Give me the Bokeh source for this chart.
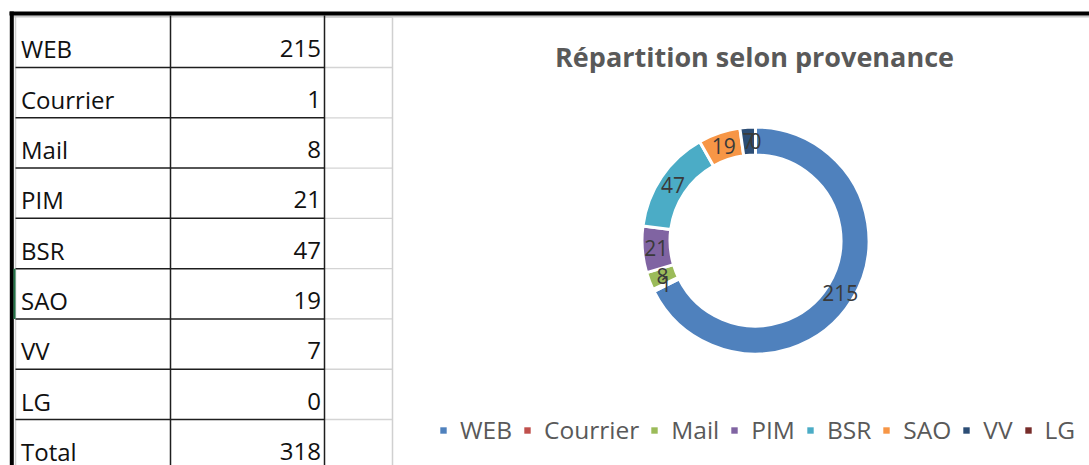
import math
from bokeh.plotting import figure
from bokeh.models import Range1d, ColumnDataSource, Legend, LegendItem
from bokeh.core.properties import value
from bokeh.embed import file_html
from bokeh.resources import INLINE

# ---- data ----
categories = ["WEB", "Courrier", "Mail", "PIM", "BSR", "SAO", "VV", "LG"]
values = [215, 1, 8, 21, 47, 19, 7, 0]
colors = ["#4F81BD", "#C0504D", "#9BBB59", "#8064A2", "#4BACC6", "#F79646", "#2C4D75", "#772C2A"]
total_label = "Total"
title_text = "Répartition selon provenance"

FONT = "Open Sans"

# ---- canvas: data units == picture pixels (y negated) ----
W, H = 1089, 465
p = figure(width=W, height=H, x_range=Range1d(0, W), y_range=Range1d(-H, 0),
           output_backend="svg", toolbar_location=None, min_border=0,
           x_axis_location=None, y_axis_location=None, outline_line_color=None,
           background_fill_color="white", border_fill_color="white")
p.grid.visible = False

# ---- spreadsheet table ----
row_h = 50.29
row_top = 16.7
col_left, col_mid, col_right, grid_right = 15, 170, 324, 392
bottom = H
n_rows = len(categories) + 1
row_lines = [row_top + i * row_h for i in range(n_rows + 1)]

# light gray cell gridlines
p.segment(x0=[col_right] * len(row_lines), x1=[grid_right] * len(row_lines),
          y0=[-y for y in row_lines], y1=[-y for y in row_lines], line_color="#d4d4d4", line_width=1.3)
p.segment(x0=[col_left, grid_right], x1=[col_left, grid_right], y0=[-15, -17], y1=[-bottom, -bottom],
          line_color="#d0d0d0", line_width=1.5)
p.segment(x0=[13], x1=[W], y0=[-16], y1=[-16], line_color="#c8c8c8", line_width=2)

# black table borders
p.segment(x0=[col_left] * (len(row_lines) - 1), x1=[col_right] * (len(row_lines) - 1),
          y0=[-y for y in row_lines[1:]], y1=[-y for y in row_lines[1:]], line_color="#1e1e1e", line_width=1.5)
p.segment(x0=[col_mid, col_right], x1=[col_mid, col_right], y0=[-15, -15], y1=[-bottom, -bottom],
          line_color="#1e1e1e", line_width=1.5)
# thick outer frame
p.segment(x0=[9], x1=[W], y0=[-13], y1=[-13], line_color="black", line_width=4)
p.segment(x0=[11.3], x1=[11.3], y0=[-11], y1=[-bottom], line_color="black", line_width=4)
# selection marker (SAO row)
sao = categories.index("SAO")
p.segment(x0=[14], x1=[14], y0=[-row_lines[sao]], y1=[-row_lines[sao + 1]], line_color="#217346", line_width=2)

tbl_labels = categories + [total_label]
tbl_values = [str(v) for v in values] + [str(sum(values))]
mids = [-(row_lines[i + 1] - 18.5) for i in range(n_rows)]
p.text(x=[20.5] * n_rows, y=mids, text=tbl_labels, text_font=value(FONT), text_font_size="24px",
       text_color="#111111", text_baseline="middle", text_align="left")
p.text(x=[320.5] * n_rows, y=mids, text=tbl_values, text_font=value(FONT), text_font_size="24px",
       text_color="#111111", text_baseline="middle", text_align="right")

# ---- doughnut chart ----
cx, cy = 755, -240
r_out, r_in = 113.5, 85.5
r_mid = 99.5
total = sum(values)
starts, ends, lx, ly = [], [], [], []
cum = 0
for v in values:
    a0 = math.pi / 2 - cum / total * 2 * math.pi
    a1 = math.pi / 2 - (cum + v) / total * 2 * math.pi
    mid = (a0 + a1) / 2
    starts.append(a0)
    ends.append(a1)
    lx.append(cx + r_mid * math.cos(mid))
    ly.append(cy + r_mid * math.sin(mid))
    cum += v

keep = [i for i, v in enumerate(values) if v > 0]   # zero-sweep wedges are not drawn
wsrc = ColumnDataSource(dict(start=[starts[i] for i in keep], end=[ends[i] for i in keep],
                             color=[colors[i] for i in keep]))
p.annular_wedge(x=cx, y=cy, inner_radius=r_in, outer_radius=r_out, inner_radius_units="screen",
                outer_radius_units="screen", start_angle="start", end_angle="end", direction="clock",
                fill_color="color", line_color="white", line_width=3, source=wsrc)
lsrc_lab = ColumnDataSource(dict(lx=lx, ly=ly, lab=[str(v) for v in values]))
p.text(x="lx", y="ly", text="lab", source=lsrc_lab, text_font=value(FONT), text_font_size="21px",
       text_color="#3a3a3a", text_align="center", text_baseline="middle")

# title
p.text(x=[754], y=[-56], text=[title_text], text_font=value(FONT), text_font_size="27px",
       text_font_style="bold", text_color="#595959", text_align="center", text_baseline="middle")

# legend (swatches from a hidden quad renderer carrying the same colors)
nan = float("nan")
n = len(categories)
lsrc = ColumnDataSource(dict(l=[nan] * n, r=[nan] * n, t=[nan] * n, b=[nan] * n, color=colors))
lr = p.quad(left="l", right="r", top="t", bottom="b", fill_color="color", line_color=None, source=lsrc)
items = [LegendItem(label=c, renderers=[lr], index=i) for i, c in enumerate(categories)]
legend = Legend(items=items, orientation="horizontal", location=(439, 19),
                glyph_width=8, glyph_height=8, label_standoff=13, spacing=11, padding=0, margin=0,
                border_line_color=None, background_fill_alpha=0,
                label_text_font=FONT, label_text_font_size="24.5px", label_text_color="#595959")
p.add_layout(legend, "center")

open("out.html", "w").write(file_html(p, INLINE))
